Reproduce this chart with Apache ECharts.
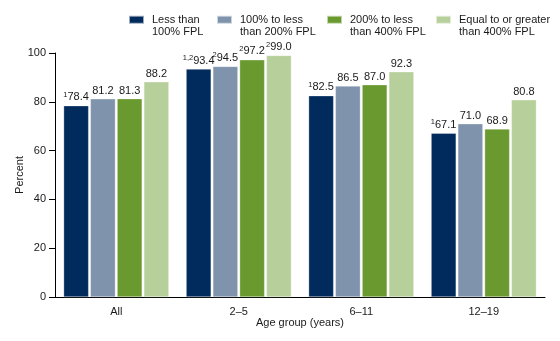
<!DOCTYPE html>
<html><head><meta charset="utf-8">
<script src="https://cdn.jsdelivr.net/npm/echarts@6/dist/echarts.min.js"></script>
<style>html,body{margin:0;padding:0;background:#fff}#c{width:560px;height:341px}</style>
</head><body><div id="c"></div>
<script>
const categories = ['All', '2\u20135', '6\u201311', '12\u201319'];
const seriesNames = ['Less than\n100% FPL', '100% to less\nthan 200% FPL', '200% to less\nthan 400% FPL', 'Equal to or greater\nthan 400% FPL'];
const lt100 = [78.4, 93.4, 82.5, 67.1];
const p100to200 = [81.2, 94.5, 86.5, 71.0];
const p200to400 = [81.3, 97.2, 87.0, 68.9];
const ge400 = [88.2, 99.0, 92.3, 80.8];
const notes_lt100 = ['1', '1,2', '1', '1'];
const notes_p100to200 = ['', '2', '', ''];
const notes_p200to400 = ['', '2', '', ''];
const notes_ge400 = ['', '2', '', ''];
const yTicks = [0, 20, 40, 60, 80, 100];

const values = [lt100, p100to200, p200to400, ge400];
const notes = [notes_lt100, notes_p100to200, notes_p200to400, notes_ge400];
const colors = ['#002b5c', '#7f93ac', '#6a9a2f', '#b7d09b'];
const legendLefts = [128, 216, 326, 435];
const font = 'Liberation Sans, Arial, sans-serif';

const chart = echarts.init(document.getElementById('c'), null, {renderer: 'canvas'});
const series = values.map((vals, si) => ({
  name: seriesNames[si],
  type: 'bar',
  data: vals,
  barWidth: 25,
  barGap: '7%',
  itemStyle: {color: colors[si], borderColor: 'rgba(255,255,255,0.6)', borderWidth: 0.5},
  label: {
    show: true, position: 'top', distance: 2,
    formatter: p => {
      const n = notes[si][p.dataIndex];
      const v = p.value.toFixed(1);
      return n ? '{s|' + n + '}{v|' + v + '}' : '{v|' + v + '}';
    },
    rich: {
      v: {fontSize: 11, fontFamily: font, color: '#1a1a1a'},
      s: {fontSize: 7.5, fontFamily: font, color: '#1a1a1a', verticalAlign: 'top', padding: [0, 0, 5, 0]}
    }
  }
}));

const legends = seriesNames.map((n, i) => ({
  data: [n],
  left: legendLefts[i], top: 1, padding: 0,
  itemWidth: 15, itemHeight: 8, itemGap: 0,
  icon: 'rect', selectedMode: false,
  formatter: name => ' \n' + name,
  textStyle: {fontSize: 11, fontFamily: font, color: '#1a1a1a', lineHeight: 12.5, padding: [0, 0, 0, 3]}
}));

chart.setOption({
  animation: false,
  color: colors,
  legend: legends,
  grid: {left: 55, right: 15, top: 53, bottom: 44, containLabel: false},
  xAxis: {
    type: 'category', data: categories,
    name: 'Age group (years)', nameLocation: 'middle', nameGap: 20, nameMoveOverlap: false,
    nameTextStyle: {fontSize: 11, fontFamily: font, color: '#1a1a1a'},
    axisLine: {lineStyle: {color: '#000', width: 1}},
    axisTick: {show: false},
    axisLabel: {fontSize: 11, fontFamily: font, color: '#1a1a1a', margin: 9}
  },
  yAxis: {
    type: 'value', min: 0, max: 100, interval: 20,
    name: 'Percent', nameLocation: 'middle', nameGap: 30, nameMoveOverlap: false,
    nameTextStyle: {fontSize: 11, fontFamily: font, color: '#1a1a1a'},
    axisLine: {show: true, lineStyle: {color: '#000', width: 1}},
    axisTick: {show: true, length: 6, lineStyle: {color: '#000'}},
    splitLine: {show: false},
    axisLabel: {fontSize: 11, fontFamily: font, color: '#1a1a1a', margin: 9,
      formatter: v => yTicks.includes(v) ? String(v) : ''}
  },
  series: series
});
</script></body></html>
